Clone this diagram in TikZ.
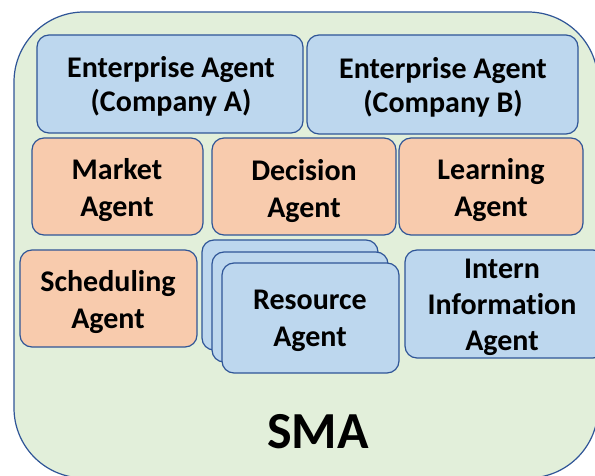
\documentclass[tikz,border=0pt]{standalone}
\usepackage{fontspec}
\setmainfont{Carlito}[Ligatures=NoCommon]
\definecolor{smagreen}{HTML}{E2EFDA}
\definecolor{edgeblue}{HTML}{2F5597}
\definecolor{boxblue}{HTML}{BDD7EE}
\definecolor{boxorange}{HTML}{F8CBAD}
\tikzset{
  agentbox/.style={draw=edgeblue, line width=1.2pt, rounded corners=12pt},
  bluebox/.style={agentbox, fill=boxblue},
  orangebox/.style={agentbox, fill=boxorange},
  lbl/.style={align=center, font=\fontsize{30}{37}\selectfont\bfseries, inner sep=0pt},
  lblwide/.style={align=center, font=\fontsize{30}{34}\selectfont\bfseries, inner sep=0pt}
}
\begin{document}
\begin{tikzpicture}[x=1pt,y=-1pt]
\useasboundingbox (0,0) rectangle (595,476);
\begin{scope}
\clip (0,0) rectangle (595,476);
\draw[draw=edgeblue, line width=1.2pt, fill=smagreen, rounded corners=70pt] (14,12) rectangle (598,478);
\end{scope}
% boxes
\draw[bluebox] (37,35) rectangle (303,133);
\node[lblwide] (entA) at (171,86) {Enterprise Agent\\(Company A)};
\draw[bluebox] (307,35) rectangle (578,134);
\node[lblwide] (entB) at (443,87) {Enterprise Agent\\(Company B)};
\draw[orangebox] (32,138) rectangle (203,235);
\node[lbl] (market) at (117,190) {Market\\Agent};
\draw[orangebox] (212,138) rectangle (396,235);
\node[lbl] (decision) at (304,191) {Decision\\Agent};
\draw[orangebox] (399,138) rectangle (583,235);
\node[lbl] (learning) at (491,190) {Learning\\Agent};
\draw[orangebox] (20,250) rectangle (197,347);
\node[lbl] (sched) at (108,302) {Scheduling\\Agent};
\draw[bluebox] (202,240) rectangle (378,350);
\draw[bluebox] (212,252) rectangle (388,362);
\draw[bluebox] (222,263) rectangle (399,373);
\node[lbl] (resource) at (310,321) {Resource\\Agent};
\draw[bluebox] (405,250) rectangle (605,358);
\node[lbl, font=\fontsize{30}{36}\selectfont\bfseries] (intern) at (502,307) {Intern\\Information\\Agent};
\node[font=\fontsize{52}{60}\selectfont\bfseries, inner sep=0pt] (sma) at (318,432) {SMA};
\end{tikzpicture}
\end{document}
